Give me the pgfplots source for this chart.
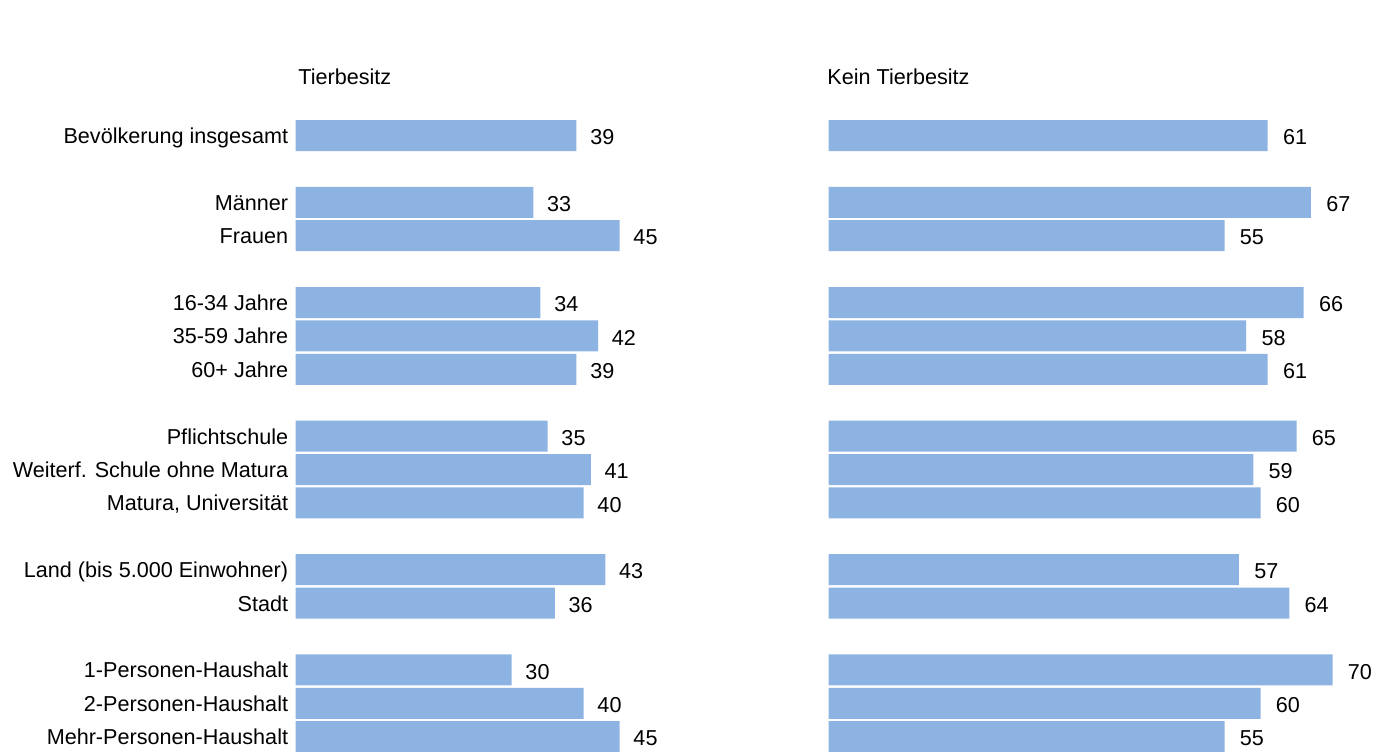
\documentclass[border=0pt]{standalone}
\usepackage{fontspec}
\setmainfont{Liberation Sans}
\usepackage{pgfplots}
\pgfplotsset{compat=1.18}
\definecolor{barblue}{RGB}{141,179,226}
\newcommand{\fs}{\fontsize{10.8}{12.9}\selectfont}
\pgfplotsset{
  panel/.style={
    xbar, y dir=reverse,
    x=3.6pt, y=16.7pt,
    xmin=0, xmax=70, ymin=-0.5, ymax=18.5,
    enlargelimits=false, clip=false,
    bar width=15.5pt, bar shift=0pt,
    axis line style={draw=none},
    major tick length=0pt,
    xtick=\empty,
    ytick={0,2,3,5,6,7,9,10,11,13,14,16,17,18},
    /pgf/number format/assume math mode=true,
    anchor=north west,
    nodes near coords,
  },
}
\begin{document}
\begin{tikzpicture}
\path[use as bounding box] (0,0) rectangle (689pt,375.5pt);
\node[anchor=base west, font=\fs, inner sep=0pt] at (149pt,333pt) {Tierbesitz};
\node[anchor=base west, font=\fs, inner sep=0pt] at (413.5pt,333pt) {Kein Tierbesitz};
\begin{axis}[panel,
  at={(147.85pt,316.1pt)},
  yticklabels={Bevölkerung insgesamt, Männer, Frauen, 16-34 Jahre, 35-59 Jahre, 60+ Jahre, Pflichtschule, Weiterf. Schule ohne Matura, {Matura, Universität}, Land (bis 5.000 Einwohner), Stadt, 1-Personen-Haushalt, 2-Personen-Haushalt, Mehr-Personen-Haushalt},
  yticklabel style={font=\fs, anchor=base east, inner sep=0pt, xshift=-3.6pt, yshift=-4pt},
  every node near coord/.style={font=\fs, anchor=base west, inner sep=0pt, xshift=6.7pt, yshift=-4.6pt, text=black},
]
\addplot[fill=barblue, draw=none] coordinates {
(39,0) (33,2) (45,3) (34,5) (42,6) (39,7) (35,9) (41,10) (40,11) (43,13) (36,14) (30,16) (40,17) (45,18)};
\end{axis}
\begin{axis}[panel,
  at={(414.25pt,316.1pt)},
  yticklabels={},
  every node near coord/.style={font=\fs, anchor=base west, inner sep=0pt, xshift=7.5pt, yshift=-4.6pt, text=black},
]
\addplot[fill=barblue, draw=none] coordinates {
(61,0) (67,2) (55,3) (66,5) (58,6) (61,7) (65,9) (59,10) (60,11) (57,13) (64,14) (70,16) (60,17) (55,18)};
\end{axis}
\end{tikzpicture}
\end{document}
